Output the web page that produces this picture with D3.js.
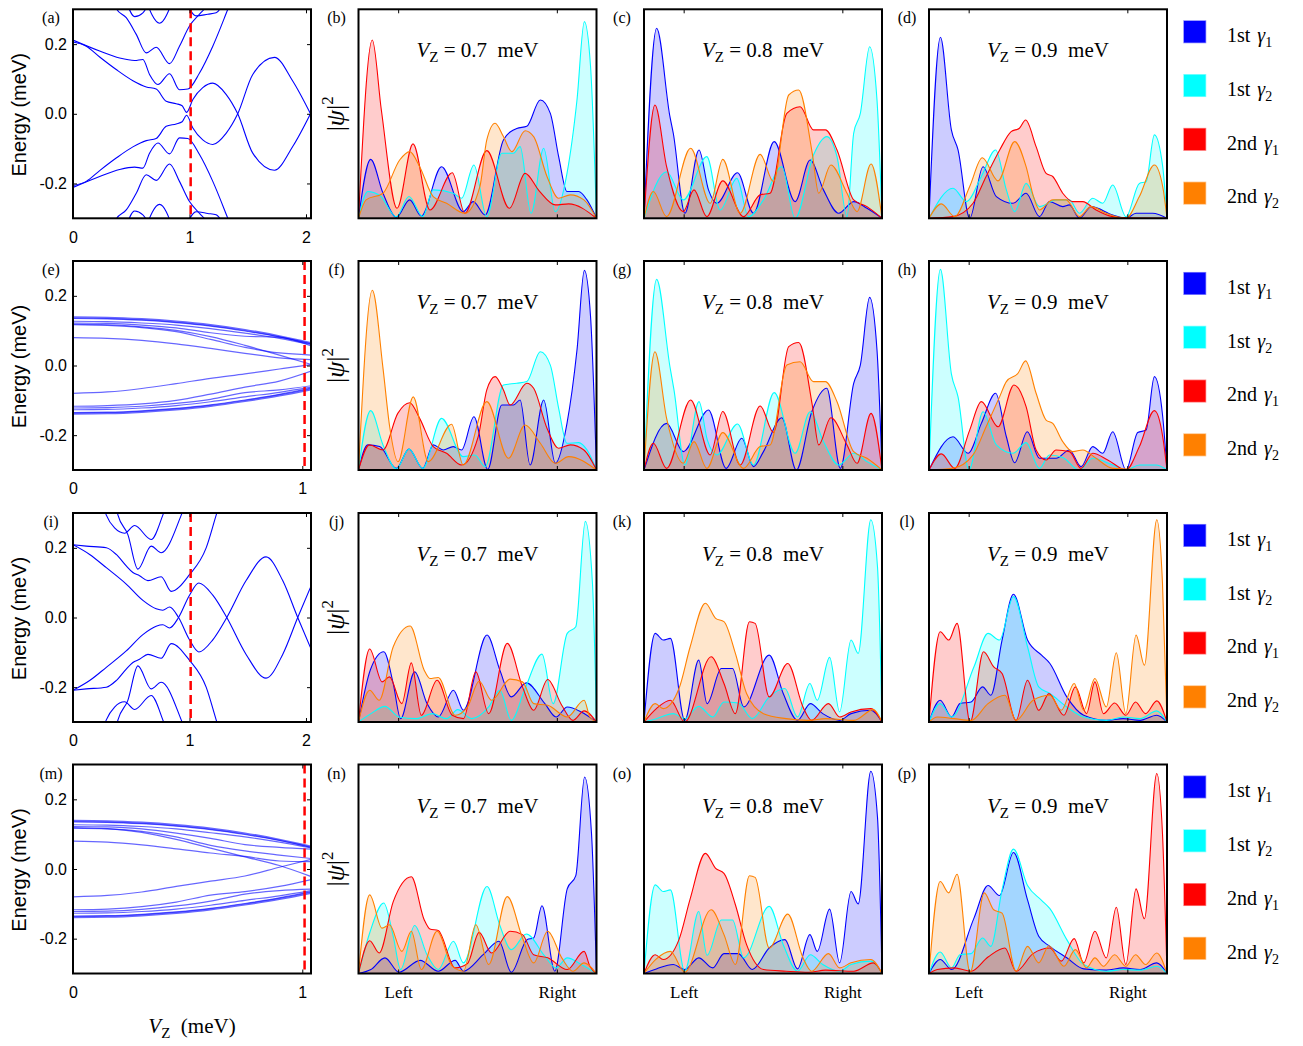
<!DOCTYPE html>
<html><head><meta charset="utf-8">
<script src="https://cdn.jsdelivr.net/npm/d3@7"></script>
<style>body{margin:0;background:#fff} text{white-space:pre}</style>
</head><body>
<script>
// ---------------- DATA ----------------
const seriesNames = [["1st","1"],["1st","2"],["2nd","1"],["2nd","2"]];
const seriesColors = ["#0000ff","#00ffff","#ff0000","#ff8000"];
const zeemanValues = ["0.7","0.8","0.9"];
const panelLetters = [["a","b","c","d"],["e","f","g","h"],["i","j","k","l"],["m","n","o","p"]];
const wireTicks = [1/6, 5/6];
const wireTickLabels = ["Left","Right"];
const energyTicks = [-0.2, 0, 0.2];
const energyTickLabels = ["-0.2","0.0","0.2"];
const vzTicksLong = [0,1,2];
const vzTicksShort = [0,1];
const vzDomainLong = [0, 2.043];
const vzDomainShort = [0, 1.038];
const energyDomain = [-0.3, 0.3];
const markerVz = 1.01;

// |psi|^2 curves: [position along wire (0..1), relative density (0..1)]
const b_blue=[[0,0],[0.051,0.282],[0.103,0.12],[0.159,0.005],[0.215,0.088],[0.264,0.011],[0.349,0.247],[0.44,0.032],[0.482,0.08],[0.532,0.016],[0.609,0.375],[0.665,0.43],[0.707,0.44],[0.764,0.566],[0.806,0.502],[0.841,0.295],[0.876,0.128],[0.925,0.128],[0.96,0.088],[1,0]];
const b_cyan=[[0,0],[0.039,0.128],[0.089,0.11],[0.159,0.008],[0.212,0.104],[0.27,0.008],[0.314,0.136],[0.398,0.12],[0.433,0.096],[0.485,0.255],[0.539,0.008],[0.602,0.311],[0.651,0.311],[0.679,0.343],[0.725,0.024],[0.778,0.335],[0.827,0.032],[0.876,0.215],[0.918,0.566],[0.949,0.941],[0.975,0.726],[1,0]];
const b_red=[[0,0],[0.058,0.853],[0.096,0.518],[0.162,0.048],[0.229,0.356],[0.3,0.04],[0.394,0.218],[0.447,0.024],[0.539,0.324],[0.634,0.048],[0.7,0.215],[0.76,0.13],[0.827,0.064],[0.883,0.069],[1,0]];
const b_orange=[[0,0],[0.032,0.088],[0.103,0.12],[0.173,0.279],[0.215,0.319],[0.257,0.247],[0.314,0.104],[0.37,0.072],[0.447,0.024],[0.51,0.152],[0.539,0.375],[0.574,0.455],[0.609,0.391],[0.644,0.319],[0.7,0.419],[0.736,0.391],[0.792,0.2],[0.841,0.096],[0.89,0.112],[0.947,0.088],[1,0]];

const c_blue=[[0,0],[0.053,0.909],[0.109,0.486],[0.123,0.407],[0.172,0.024],[0.231,0.327],[0.271,0.136],[0.306,0.072],[0.393,0.218],[0.46,0.024],[0.547,0.367],[0.635,0.08],[0.698,0.279],[0.754,0.136],[0.818,0.024],[0.881,0.08],[0.937,0.048],[1,0]];
const c_cyan=[[0,0],[0.095,0.223],[0.165,0.088],[0.264,0.295],[0.32,0.04],[0.39,0.191],[0.439,0.008],[0.502,0.088],[0.579,0.247],[0.635,0],[0.712,0.303],[0.768,0.391],[0.811,0.295],[0.853,0.008],[0.881,0.407],[0.909,0.502],[0.948,0.821],[0.979,0.566],[1,0]];
const c_red=[[0,0],[0.046,0.542],[0.095,0.247],[0.165,0.032],[0.21,0.136],[0.264,0.008],[0.331,0.179],[0.418,0.008],[0.488,0.112],[0.53,0.12],[0.6,0.502],[0.656,0.534],[0.712,0.423],[0.762,0.423],[0.811,0.327],[0.881,0.088],[0.937,0.056],[1,0]];
const c_orange=[[0,0],[0.039,0.128],[0.095,0.008],[0.196,0.335],[0.278,0.072],[0.331,0.282],[0.404,0.024],[0.488,0.306],[0.544,0.175],[0.608,0.59],[0.65,0.614],[0.707,0.311],[0.734,0.12],[0.785,0.255],[0.853,0.12],[0.895,0.032],[0.954,0.26],[1,0]];

const d_blue=[[0,0],[0.048,0.866],[0.094,0.423],[0.122,0.327],[0.171,0],[0.227,0.247],[0.283,0.104],[0.353,0.072],[0.408,0.12],[0.464,0.008],[0.506,0.08],[0.562,0.056],[0.59,0.064],[0.632,0],[0.681,0.056],[0.772,0.016],[0.828,0],[0.87,0.024],[0.94,0.024],[1,0]];
const d_cyan=[[0,0],[0.101,0.144],[0.157,0.08],[0.22,0.2],[0.28,0.327],[0.325,0.136],[0.36,0.032],[0.408,0.167],[0.464,0.056],[0.534,0.088],[0.59,0.088],[0.632,0.024],[0.688,0.096],[0.73,0.072],[0.772,0.159],[0.828,0.008],[0.884,0.167],[0.912,0.175],[0.947,0.399],[0.982,0.247],[1,0]];
const d_red=[[0,0],[0.1,0.008],[0.185,0.072],[0.24,0.2],[0.297,0.327],[0.345,0.415],[0.38,0.431],[0.406,0.47],[0.45,0.343],[0.492,0.215],[0.52,0.2],[0.562,0.12],[0.604,0.08],[0.646,0.08],[0.702,0.04],[0.772,0.008],[0.828,0.002],[1,0]];
const d_orange=[[0,0],[0.052,0.069],[0.108,0.008],[0.171,0.152],[0.224,0.29],[0.29,0.179],[0.36,0.367],[0.408,0.247],[0.44,0.1],[0.464,0.04],[0.52,0.088],[0.576,0.088],[0.632,0.008],[0.681,0.056],[0.744,0.024],[0.828,0],[0.884,0.104],[0.947,0.255],[0.982,0.152],[1,0]];

const f_blue=[[0,0],[0.039,0.12],[0.089,0.112],[0.159,0.008],[0.212,0.1],[0.27,0.008],[0.314,0.12],[0.356,0.096],[0.398,0.112],[0.433,0.096],[0.485,0.255],[0.543,0.003],[0.602,0.311],[0.651,0.311],[0.679,0.335],[0.721,0.024],[0.778,0.335],[0.827,0.032],[0.876,0.223],[0.918,0.574],[0.949,0.955],[0.975,0.734],[1,0]];
const f_cyan=[[0,0],[0.051,0.284],[0.103,0.12],[0.159,0.005],[0.212,0.1],[0.27,0.008],[0.349,0.247],[0.44,0.064],[0.489,0.072],[0.532,0.016],[0.609,0.407],[0.665,0.415],[0.707,0.423],[0.764,0.566],[0.806,0.502],[0.841,0.295],[0.876,0.128],[0.925,0.131],[0.96,0.096],[1,0]];
const f_red=[[0,0],[0.046,0.12],[0.103,0.096],[0.165,0.271],[0.215,0.322],[0.257,0.247],[0.314,0.112],[0.37,0.08],[0.433,0.024],[0.503,0.16],[0.539,0.383],[0.574,0.447],[0.609,0.383],[0.637,0.311],[0.707,0.415],[0.736,0.391],[0.792,0.2],[0.841,0.104],[0.89,0.12],[0.947,0.096],[1,0]];
const f_orange=[[0,0],[0.058,0.86],[0.103,0.486],[0.131,0.207],[0.166,0.04],[0.23,0.35],[0.293,0.04],[0.391,0.219],[0.44,0.024],[0.539,0.327],[0.63,0.056],[0.7,0.215],[0.764,0.128],[0.827,0.032],[0.883,0.064],[1,0]];

const g_blue=[[0,0],[0.095,0.223],[0.165,0.088],[0.271,0.287],[0.345,0.008],[0.411,0.152],[0.46,0.016],[0.502,0.088],[0.579,0.25],[0.64,0],[0.705,0.279],[0.768,0.391],[0.825,0.008],[0.881,0.415],[0.909,0.502],[0.948,0.826],[0.979,0.574],[1,0]];
const g_cyan=[[0,0],[0.053,0.912],[0.109,0.494],[0.126,0.383],[0.172,0.024],[0.231,0.327],[0.266,0.144],[0.306,0.072],[0.393,0.22],[0.46,0.024],[0.547,0.37],[0.635,0.08],[0.698,0.279],[0.754,0.136],[0.818,0.024],[0.881,0.08],[0.937,0.04],[1,0]];
const g_red=[[0,0],[0.039,0.128],[0.095,0.008],[0.196,0.335],[0.278,0.072],[0.331,0.28],[0.404,0.024],[0.488,0.306],[0.544,0.18],[0.608,0.59],[0.65,0.61],[0.707,0.311],[0.734,0.12],[0.785,0.25],[0.853,0.12],[0.895,0.032],[0.954,0.271],[1,0]];
const g_orange=[[0,0],[0.046,0.566],[0.095,0.247],[0.165,0.032],[0.21,0.136],[0.264,0.008],[0.331,0.179],[0.418,0.008],[0.488,0.112],[0.53,0.12],[0.6,0.502],[0.656,0.518],[0.712,0.423],[0.762,0.423],[0.811,0.327],[0.881,0.088],[0.937,0.056],[1,0]];

const h_blue=[[0,0],[0.101,0.159],[0.164,0.08],[0.22,0.223],[0.28,0.367],[0.325,0.159],[0.36,0.035],[0.413,0.183],[0.464,0.056],[0.534,0.056],[0.59,0.096],[0.639,0.016],[0.688,0.112],[0.73,0.08],[0.772,0.183],[0.828,0],[0.877,0.179],[0.912,0.191],[0.947,0.447],[0.982,0.255],[1,0]];
const h_cyan=[[0,0],[0.048,0.96],[0.094,0.46],[0.122,0.35],[0.168,0],[0.227,0.279],[0.283,0.12],[0.353,0.08],[0.408,0.131],[0.464,0.008],[0.506,0.072],[0.562,0.06],[0.632,0],[0.688,0.056],[0.772,0.024],[0.828,0],[0.884,0.024],[0.954,0.024],[1,0]];
const h_red=[[0,0],[0.052,0.077],[0.108,0.008],[0.171,0.191],[0.22,0.327],[0.29,0.207],[0.357,0.407],[0.408,0.303],[0.45,0.096],[0.492,0.048],[0.534,0.096],[0.59,0.088],[0.639,0.008],[0.688,0.08],[0.751,0.048],[0.828,0],[0.884,0.112],[0.947,0.284],[0.982,0.16],[1,0]];
const h_orange=[[0,0],[0.1,0.008],[0.185,0.072],[0.24,0.207],[0.297,0.351],[0.325,0.423],[0.374,0.463],[0.406,0.522],[0.45,0.367],[0.492,0.239],[0.52,0.223],[0.562,0.136],[0.604,0.088],[0.646,0.096],[0.702,0.056],[0.772,0.008],[1,0]];

const j_blue=[[0,0],[0.05,0.25],[0.106,0.336],[0.146,0.184],[0.177,0.016],[0.236,0.24],[0.288,0.088],[0.335,0.024],[0.399,0.152],[0.441,0.056],[0.54,0.416],[0.594,0.248],[0.642,0.12],[0.705,0.187],[0.783,0.088],[0.83,0.024],[0.877,0.072],[0.936,0.048],[1,0]];
const j_cyan=[[0,0],[0.052,0.04],[0.111,0.075],[0.17,0.024],[0.24,0.016],[0.311,0.04],[0.37,0.016],[0.417,0.059],[0.476,0.016],[0.547,0.072],[0.594,0.152],[0.642,0.008],[0.7,0.16],[0.771,0.325],[0.818,0.088],[0.877,0.424],[0.913,0.456],[0.953,0.96],[0.983,0.664],[1,0]];
const j_red=[[0,0],[0.047,0.349],[0.099,0.192],[0.13,0.216],[0.182,0.088],[0.222,0.283],[0.264,0.032],[0.33,0.2],[0.394,0.032],[0.441,0.016],[0.493,0.24],[0.547,0.04],[0.625,0.376],[0.689,0.168],[0.736,0.056],[0.795,0.203],[0.854,0.08],[0.901,0.008],[0.948,0.053],[1,0]];
const j_orange=[[0,0],[0.047,0.152],[0.087,0.104],[0.146,0.36],[0.217,0.459],[0.276,0.248],[0.3,0.208],[0.335,0.213],[0.406,0.032],[0.458,0.072],[0.507,0.195],[0.559,0.104],[0.637,0.205],[0.689,0.192],[0.736,0.088],[0.795,0.08],[0.877,0.024],[0.948,0.104],[0.972,0.024],[1,0]];

const k_blue=[[0,0],[0.047,0.424],[0.081,0.392],[0.111,0.4],[0.171,0.008],[0.23,0.296],[0.265,0.088],[0.325,0.256],[0.372,0.256],[0.419,0.072],[0.526,0.32],[0.585,0.136],[0.645,0.008],[0.699,0.088],[0.751,0.04],[0.822,0.008],[0.87,0.04],[0.953,0.056],[1,0]];
const k_cyan=[[0,0],[0.052,0.016],[0.123,0.04],[0.171,0.016],[0.23,0.075],[0.289,0.024],[0.336,0.096],[0.396,0.091],[0.455,0.016],[0.526,0.12],[0.592,0.16],[0.645,0.024],[0.697,0.184],[0.728,0.104],[0.78,0.309],[0.822,0.048],[0.87,0.392],[0.9,0.328],[0.953,0.968],[0.981,0.744],[1,0]];
const k_red=[[0,0],[0.052,0.064],[0.111,0.104],[0.171,0],[0.282,0.312],[0.336,0.184],[0.384,0.04],[0.443,0.48],[0.467,0.472],[0.526,0.12],[0.604,0.28],[0.668,0.072],[0.704,0.008],[0.775,0.088],[0.822,0.024],[0.87,0.048],[0.953,0.064],[1,0]];
const k_orange=[[0,0],[0.047,0.088],[0.081,0.064],[0.147,0.16],[0.194,0.36],[0.258,0.568],[0.301,0.496],[0.336,0.48],[0.384,0.328],[0.431,0.136],[0.502,0.04],[0.597,0.016],[0.692,0.008],[0.763,0.016],[0.882,0.008],[0.964,0.059],[1,0]];

const l_blue=[[0,0],[0.047,0.104],[0.095,0.024],[0.13,0.088],[0.177,0.096],[0.225,0.168],[0.26,0.128],[0.307,0.392],[0.355,0.611],[0.414,0.392],[0.473,0.32],[0.508,0.28],[0.579,0.12],[0.65,0.032],[0.745,0.008],[0.816,0.016],[0.887,0.008],[0.957,0.032],[1,0]];
const l_cyan=[[0,0],[0.047,0.088],[0.095,0.024],[0.189,0.264],[0.248,0.424],[0.296,0.392],[0.355,0.6],[0.414,0.36],[0.461,0.168],[0.508,0.136],[0.579,0.072],[0.65,0.024],[0.745,0.008],[0.816,0.024],[0.887,0.016],[0.957,0.053],[1,0]];
const l_red=[[0,0],[0.047,0.432],[0.083,0.392],[0.118,0.472],[0.173,0],[0.229,0.336],[0.272,0.264],[0.307,0.232],[0.366,0.008],[0.414,0.2],[0.461,0.056],[0.504,0.136],[0.567,0.032],[0.615,0.168],[0.662,0.04],[0.697,0.192],[0.733,0.04],[0.78,0.091],[0.827,0.032],[0.868,0.096],[0.91,0.04],[0.957,0.101],[1,0]];
const l_orange=[[0,0],[0.035,0.024],[0.106,0.016],[0.177,0.008],[0.248,0.088],[0.319,0.128],[0.366,0.008],[0.437,0.104],[0.508,0.128],[0.556,0.056],[0.61,0.184],[0.65,0.056],[0.697,0.208],[0.745,0.072],[0.787,0.331],[0.827,0.04],[0.87,0.416],[0.905,0.272],[0.957,0.968],[0.981,0.664],[1,0]];

const n_blue=[[0,0],[0.052,0.019],[0.111,0.075],[0.17,0.006],[0.259,0.063],[0.335,0.011],[0.406,0.063],[0.441,0.011],[0.524,0.09],[0.59,0.154],[0.642,0.006],[0.708,0.162],[0.736,0.17],[0.771,0.324],[0.825,0.011],[0.877,0.405],[0.913,0.468],[0.95,0.94],[0.979,0.67],[1,0]];
const n_cyan=[[0,0],[0.047,0.194],[0.106,0.337],[0.146,0.178],[0.177,0.019],[0.236,0.23],[0.288,0.09],[0.335,0.019],[0.399,0.154],[0.441,0.051],[0.54,0.416],[0.594,0.23],[0.642,0.114],[0.705,0.189],[0.783,0.083],[0.83,0.027],[0.877,0.075],[0.936,0.043],[1,0]];
const n_red=[[0,0],[0.047,0.157],[0.087,0.098],[0.146,0.344],[0.222,0.463],[0.276,0.257],[0.3,0.213],[0.335,0.206],[0.406,0.027],[0.458,0.048],[0.507,0.197],[0.559,0.098],[0.637,0.202],[0.689,0.186],[0.736,0.09],[0.795,0.075],[0.877,0.019],[0.948,0.106],[0.972,0.035],[1,0]];
const n_orange=[[0,0],[0.047,0.376],[0.099,0.217],[0.13,0.233],[0.182,0.106],[0.222,0.202],[0.264,0.019],[0.33,0.202],[0.394,0.035],[0.441,0.011],[0.493,0.233],[0.547,0.043],[0.625,0.368],[0.689,0.17],[0.736,0.051],[0.795,0.202],[0.854,0.075],[0.901,0.011],[0.948,0.051],[1,0]];

const o_blue=[[0,0],[0.052,0.022],[0.123,0.043],[0.171,0.019],[0.23,0.075],[0.289,0.027],[0.336,0.095],[0.396,0.095],[0.455,0.019],[0.526,0.122],[0.592,0.162],[0.645,0.022],[0.697,0.186],[0.728,0.106],[0.78,0.308],[0.822,0.051],[0.87,0.392],[0.9,0.333],[0.953,0.968],[0.981,0.749],[1,0]];
const o_cyan=[[0,0],[0.047,0.424],[0.081,0.392],[0.111,0.4],[0.171,0.011],[0.23,0.297],[0.265,0.087],[0.325,0.256],[0.372,0.256],[0.419,0.075],[0.526,0.321],[0.585,0.138],[0.645,0.011],[0.699,0.09],[0.751,0.043],[0.822,0.011],[0.87,0.043],[0.953,0.059],[1,0]];
const o_red=[[0,0],[0.047,0.09],[0.081,0.067],[0.147,0.162],[0.194,0.357],[0.258,0.575],[0.301,0.503],[0.336,0.479],[0.384,0.329],[0.431,0.138],[0.502,0.019],[0.597,0.011],[0.692,0.006],[0.763,0.016],[0.882,0.011],[0.964,0.051],[1,0]];
const o_orange=[[0,0],[0.052,0.07],[0.111,0.106],[0.171,0.006],[0.282,0.305],[0.336,0.186],[0.384,0.043],[0.443,0.468],[0.467,0.46],[0.526,0.122],[0.604,0.284],[0.668,0.075],[0.704,0.011],[0.775,0.095],[0.822,0.027],[0.87,0.051],[0.953,0.067],[1,0]];

const p_blue=[[0,0],[0.047,0.067],[0.095,0.019],[0.189,0.265],[0.248,0.421],[0.296,0.373],[0.355,0.579],[0.414,0.352],[0.461,0.178],[0.508,0.13],[0.579,0.075],[0.65,0.022],[0.745,0.016],[0.816,0.027],[0.887,0.019],[0.957,0.051],[1,0]];
const p_cyan=[[0,0],[0.047,0.103],[0.095,0.027],[0.13,0.09],[0.177,0.095],[0.225,0.17],[0.26,0.13],[0.307,0.4],[0.355,0.595],[0.414,0.421],[0.473,0.35],[0.508,0.31],[0.579,0.162],[0.65,0.043],[0.745,0.011],[0.816,0.019],[0.887,0.016],[0.957,0.035],[1,0]];
const p_red=[[0,0],[0.035,0.019],[0.106,0.027],[0.177,0.011],[0.248,0.079],[0.319,0.122],[0.366,0.011],[0.437,0.095],[0.508,0.122],[0.556,0.059],[0.61,0.167],[0.65,0.051],[0.697,0.202],[0.745,0.075],[0.787,0.317],[0.827,0.043],[0.87,0.405],[0.905,0.262],[0.957,0.957],[0.981,0.67],[1,0]];
const p_orange=[[0,0],[0.047,0.44],[0.083,0.386],[0.118,0.475],[0.173,0.006],[0.232,0.386],[0.272,0.305],[0.307,0.289],[0.366,0.011],[0.414,0.13],[0.461,0.051],[0.504,0.133],[0.567,0.035],[0.615,0.114],[0.662,0.027],[0.697,0.075],[0.733,0.035],[0.78,0.09],[0.827,0.035],[0.868,0.09],[0.91,0.043],[0.957,0.098],[1,0]];

// Energy spectra, panels (a) and (i): [Vz (meV), E (meV)]
const a_up1=[[0,0.206],[0.114,0.194],[0.229,0.163],[0.371,0.127],[0.514,0.095],[0.629,0.077],[0.714,0.071],[0.8,0.036],[0.886,0.029],[0.937,0.023],[0.975,0.004],[1.029,0.041],[1.114,0.075],[1.2,0.088],[1.314,0.056],[1.414,0],[1.543,-0.113],[1.729,-0.162],[1.886,-0.094],[2.043,0.003]];
const a_dn1=[[0,-0.206],[0.114,-0.194],[0.229,-0.163],[0.371,-0.127],[0.514,-0.095],[0.629,-0.077],[0.714,-0.071],[0.8,-0.036],[0.886,-0.029],[0.937,-0.023],[0.975,-0.004],[1.029,-0.041],[1.114,-0.075],[1.2,-0.088],[1.314,-0.056],[1.414,0],[1.543,0.113],[1.729,0.162],[1.886,0.094],[2.043,-0.003]];
const a_up2=[[0,0.2115],[0.229,0.18],[0.4,0.16],[0.529,0.153],[0.6,0.156],[0.657,0.113],[0.729,0.084],[0.829,0.115],[0.914,0.069],[0.986,0.071],[1.086,0.117],[1.2,0.194],[1.329,0.3],[1.4,0.36]];
const a_dn2=[[0,-0.2115],[0.229,-0.18],[0.4,-0.16],[0.529,-0.153],[0.6,-0.156],[0.657,-0.113],[0.729,-0.084],[0.829,-0.115],[0.914,-0.069],[0.986,-0.071],[1.086,-0.117],[1.2,-0.194],[1.329,-0.3],[1.4,-0.36]];
const a_up3=[[0.32,0.35],[0.371,0.302],[0.457,0.276],[0.543,0.228],[0.629,0.175],[0.714,0.191],[0.829,0.144],[0.914,0.194],[1.0,0.252],[1.086,0.286],[1.15,0.31],[1.2,0.34]];
const a_dn3=[[0.32,-0.35],[0.371,-0.302],[0.457,-0.276],[0.543,-0.228],[0.629,-0.175],[0.714,-0.191],[0.829,-0.144],[0.914,-0.194],[1.0,-0.252],[1.086,-0.286],[1.15,-0.31],[1.2,-0.34]];
const a_up4=[[0.45,0.33],[0.529,0.279],[0.6,0.29],[0.67,0.33]];
const a_dn4=[[0.45,-0.33],[0.529,-0.279],[0.6,-0.29],[0.67,-0.33]];
const a_up5=[[0.62,0.33],[0.743,0.26],[0.86,0.33]];
const a_dn5=[[0.62,-0.33],[0.743,-0.26],[0.86,-0.33]];
const a_up6=[[0.96,0.33],[1.057,0.281],[1.157,0.286],[1.229,0.29],[1.31,0.33]];
const a_dn6=[[0.96,-0.33],[1.057,-0.281],[1.157,-0.286],[1.229,-0.29],[1.31,-0.33]];

const i_up1=[[0,0.209],[0.114,0.205],[0.286,0.2],[0.371,0.181],[0.457,0.148],[0.514,0.129],[0.571,0.12],[0.643,0.106],[0.757,0.117],[0.843,0.075],[1.0,0.123],[1.143,0.2],[1.229,0.294],[1.29,0.36]];
const i_dn1=[[0,-0.209],[0.114,-0.205],[0.286,-0.2],[0.371,-0.181],[0.457,-0.148],[0.514,-0.129],[0.571,-0.12],[0.643,-0.106],[0.757,-0.117],[0.843,-0.075],[1.0,-0.123],[1.143,-0.2],[1.229,-0.294],[1.29,-0.36]];
const i_up2=[[0,0.209],[0.143,0.181],[0.286,0.143],[0.457,0.096],[0.6,0.049],[0.714,0.025],[0.771,0.021],[0.829,0.03],[0.906,0],[1.0,-0.064],[1.08,-0.099],[1.2,-0.064],[1.32,0],[1.486,0.106],[1.657,0.174],[1.8,0.106],[1.929,0],[2.043,-0.09]];
const i_dn2=[[0,-0.209],[0.143,-0.181],[0.286,-0.143],[0.457,-0.096],[0.6,-0.049],[0.714,-0.025],[0.771,-0.021],[0.829,-0.03],[0.906,0],[1.0,0.064],[1.08,0.099],[1.2,0.064],[1.32,0],[1.486,-0.106],[1.657,-0.174],[1.8,-0.106],[1.929,0],[2.043,0.09]];
const i_up3=[[0.25,0.33],[0.286,0.294],[0.357,0.257],[0.443,0.242],[0.529,0.264],[0.671,0.224],[0.771,0.294],[0.81,0.33]];
const i_dn3=[[0.25,-0.33],[0.286,-0.294],[0.357,-0.257],[0.443,-0.242],[0.529,-0.264],[0.671,-0.224],[0.771,-0.294],[0.81,-0.33]];
const i_up4=[[0.36,0.33],[0.386,0.294],[0.471,0.238],[0.557,0.139],[0.671,0.205],[0.757,0.186],[0.929,0.294],[0.97,0.33]];
const i_dn4=[[0.36,-0.33],[0.386,-0.294],[0.471,-0.238],[0.557,-0.139],[0.671,-0.205],[0.757,-0.186],[0.929,-0.294],[0.97,-0.33]];

// Energy spectra, panels (e) and (m): band energies sampled at bandVz
const bandVz=[0,0.15,0.3,0.45,0.6,0.75,0.9,1.04];
const e_bands=[
 [0.138,0.137,0.133,0.126,0.116,0.102,0.084,0.064],
 [0.135,0.134,0.130,0.123,0.113,0.099,0.082,0.062],
 [0.127,0.126,0.122,0.116,0.106,0.093,0.078,0.060],
 [0.122,0.121,0.116,0.108,0.094,0.084,0.081,0.056],
 [0.117,0.115,0.109,0.097,0.075,0.052,0.036,0.030],
 [0.080,0.078,0.072,0.062,0.049,0.035,0.022,0.017],
 [0.119,0.117,0.111,0.101,0.083,0.058,0.030,0.003],
 [-0.138,-0.137,-0.133,-0.126,-0.116,-0.102,-0.086,-0.068],
 [-0.135,-0.134,-0.130,-0.123,-0.113,-0.099,-0.083,-0.065],
 [-0.127,-0.126,-0.122,-0.115,-0.104,-0.090,-0.077,-0.062],
 [-0.122,-0.121,-0.117,-0.109,-0.097,-0.078,-0.070,-0.058],
 [-0.117,-0.115,-0.110,-0.100,-0.082,-0.062,-0.045,-0.016],
 [-0.080,-0.076,-0.066,-0.052,-0.037,-0.024,-0.010,0.003]
];
const m_bands=[
 [0.138,0.137,0.133,0.126,0.116,0.102,0.084,0.064],
 [0.135,0.134,0.130,0.123,0.113,0.099,0.082,0.062],
 [0.127,0.126,0.122,0.115,0.104,0.092,0.077,0.060],
 [0.122,0.121,0.115,0.103,0.088,0.070,0.062,0.057],
 [0.117,0.115,0.108,0.092,0.068,0.052,0.040,0.030],
 [0.080,0.077,0.069,0.058,0.046,0.036,0.023,0.021],
 [0.119,0.116,0.105,0.085,0.060,0.035,0.010,-0.022],
 [-0.138,-0.137,-0.133,-0.126,-0.116,-0.102,-0.086,-0.068],
 [-0.135,-0.134,-0.130,-0.123,-0.113,-0.099,-0.083,-0.065],
 [-0.127,-0.126,-0.122,-0.115,-0.104,-0.090,-0.077,-0.062],
 [-0.122,-0.121,-0.116,-0.106,-0.092,-0.072,-0.062,-0.058],
 [-0.117,-0.115,-0.108,-0.095,-0.075,-0.065,-0.050,-0.030],
 [-0.080,-0.076,-0.066,-0.050,-0.035,-0.020,0.005,0.028]
];

const waveRows=[
 [[b_blue,b_cyan,b_red,b_orange],[c_blue,c_cyan,c_red,c_orange],[d_blue,d_cyan,d_red,d_orange]],
 [[f_blue,f_cyan,f_red,f_orange],[g_blue,g_cyan,g_red,g_orange],[h_blue,h_cyan,h_red,h_orange]],
 [[j_blue,j_cyan,j_red,j_orange],[k_blue,k_cyan,k_red,k_orange],[l_blue,l_cyan,l_red,l_orange]],
 [[n_blue,n_cyan,n_red,n_orange],[o_blue,o_cyan,o_red,o_orange],[p_blue,p_cyan,p_red,p_orange]]
];
const spectraLong={0:[a_up1,a_dn1,a_up2,a_dn2,a_up3,a_dn3,a_up4,a_dn4,a_up5,a_dn5,a_up6,a_dn6],
                   2:[i_up1,i_dn1,i_up2,i_dn2,i_up3,i_dn3,i_up4,i_dn4]};
const spectraShort={1:e_bands,3:m_bands};

// ---------------- LAYOUT ----------------
const W=1303,H=1046;
const rowTop=[9.3,261,513,764.5], ph=209, pw=238;
const colLeft=[73,358.5,644,929];
const SERIF="'Liberation Serif','Times New Roman',serif";
const SANS="'Liberation Sans',Arial,sans-serif";

const svg=d3.select("body").append("svg").attr("width",W).attr("height",H);
const defs=svg.append("defs");
let clipId=0;
function clip(x0,y0){
  const id="clip"+(clipId++);
  defs.append("clipPath").attr("id",id).append("rect").attr("x",x0).attr("y",y0).attr("width",pw).attr("height",ph);
  return "url(#"+id+")";
}
function frame(x0,y0){
  svg.append("rect").attr("x",x0).attr("y",y0).attr("width",pw).attr("height",ph)
    .attr("fill","none").attr("stroke","#000").attr("stroke-width",2);
}
function label(x0,y0,letter){
  svg.append("text").attr("x",x0-22).attr("y",y0+14).attr("text-anchor","middle")
    .attr("font-family",SERIF).attr("font-size",16).text("("+letter+")");
}

// Energy panels
rowTop.forEach((top,r)=>{
  const x0=colLeft[0];
  const long=(r%2===0);
  const x=d3.scaleLinear(long?vzDomainLong:vzDomainShort,[x0,x0+pw]);
  const y=d3.scaleLinear(energyDomain,[top+ph,top]);
  const g=svg.append("g").attr("clip-path",clip(x0,top));
  const line=d3.line().x(d=>x(d[0])).y(d=>y(d[1])).curve(d3.curveMonotoneX);
  if(long){
    spectraLong[r].forEach(c=>g.append("path").attr("d",line(c)).attr("fill","none")
      .attr("stroke","#0000ff").attr("stroke-width",1.1));
  } else {
    spectraShort[r].forEach((b,bi)=>{
      const pts=bandVz.map((v,k)=>[v,b[k]]);
      g.append("path").attr("d",line(pts)).attr("fill","none")
        .attr("stroke","#0000ff").attr("stroke-opacity",0.6)
        .attr("stroke-width",(bi===0||bi===7)?2.2:1.2);
    });
  }
  g.append("line").attr("x1",x(markerVz)).attr("x2",x(markerVz)).attr("y1",top).attr("y2",top+ph)
    .attr("stroke","#ff0000").attr("stroke-width",2.5).attr("stroke-dasharray","9,5");
  const ax=svg.append("g").attr("transform",`translate(${x0},0)`)
    .call(d3.axisLeft(y).tickValues(energyTicks).tickSize(-4).tickPadding(6)
      .tickFormat((d,i)=>energyTickLabels[i]));
  ax.select(".domain").remove();
  ax.attr("font-size",16).attr("font-family",SANS);
  const axr=svg.append("g").attr("transform",`translate(${x0+pw},0)`)
    .call(d3.axisRight(y).tickValues(energyTicks).tickSize(-4).tickFormat(""));
  axr.select(".domain").remove();
  const xb=svg.append("g").attr("transform",`translate(0,${top+ph})`)
    .call(d3.axisBottom(x).tickValues(long?vzTicksLong:vzTicksShort).tickSize(-4).tickPadding(13)
      .tickFormat(d3.format("d")));
  xb.select(".domain").remove();
  xb.attr("font-size",16).attr("font-family",SANS);
  const xt=svg.append("g").attr("transform",`translate(0,${top})`)
    .call(d3.axisTop(x).tickValues(long?vzTicksLong:vzTicksShort).tickSize(-4).tickFormat(""));
  xt.select(".domain").remove();
  frame(x0,top);
  label(x0,top,panelLetters[r][0]);
  svg.append("text").attr("transform",`translate(26,${top+ph/2+1}) rotate(-90)`)
    .attr("text-anchor","middle").attr("font-family",SANS).attr("font-size",20).text("Energy (meV)");
});

// Wavefunction panels
waveRows.forEach((row,r)=>{
  const top=rowTop[r];
  row.forEach((curves,c)=>{
    const x0=colLeft[c+1];
    const x=d3.scaleLinear([0,1],[x0,x0+pw]);
    const y=d3.scaleLinear([0,1],[top+ph,top]);
    const g=svg.append("g").attr("clip-path",clip(x0,top));
    const area=d3.area().x(d=>x(d[0])).y0(y(0)).y1(d=>y(d[1])).curve(d3.curveMonotoneX);
    const line=d3.line().x(d=>x(d[0])).y(d=>y(d[1])).curve(d3.curveMonotoneX);
    curves.forEach((cv,i)=>g.append("path").attr("d",area(cv)).attr("fill",seriesColors[i]).attr("fill-opacity",0.2));
    curves.forEach((cv,i)=>g.append("path").attr("d",line(cv)).attr("fill","none")
      .attr("stroke",seriesColors[i]).attr("stroke-width",1.1));
    const bot=svg.append("g").attr("transform",`translate(0,${top+ph})`)
      .call(d3.axisBottom(x).tickValues(wireTicks).tickSize(-4).tickPadding(12)
        .tickFormat((d,i)=>r===3?wireTickLabels[i]:""));
    bot.select(".domain").remove();
    bot.attr("font-size",17).attr("font-family",SERIF);
    const tp=svg.append("g").attr("transform",`translate(0,${top})`)
      .call(d3.axisTop(x).tickValues(wireTicks).tickSize(-4).tickFormat(""));
    tp.select(".domain").remove();
    frame(x0,top);
    label(x0,top,panelLetters[r][c+1]);
    const t=svg.append("text").attr("x",x0+pw/2).attr("y",top+48).attr("text-anchor","middle")
      .attr("font-family",SERIF).attr("font-size",21);
    t.append("tspan").attr("font-style","italic").text("V");
    t.append("tspan").attr("font-size",15).attr("dy",5).text("Z");
    t.append("tspan").attr("dy",-5).text(" = "+zeemanValues[c]+"  meV");
  });
  const yl=svg.append("text").attr("transform",`translate(344,${top+ph/2}) rotate(-90)`)
    .attr("text-anchor","middle").attr("font-family",SERIF).attr("font-size",26);
  yl.append("tspan").text("|");
  yl.append("tspan").attr("font-style","italic").text("ψ");
  yl.append("tspan").text("|");
  yl.append("tspan").attr("font-size",17).attr("dy",-11).text("2");
  seriesNames.forEach((s,i)=>{
    const sy=top+11.7+i*53.8;
    svg.append("rect").attr("x",1184).attr("y",sy).attr("width",21.5).attr("height",21.5)
      .attr("fill",seriesColors[i]).attr("stroke",seriesColors[i]).attr("stroke-opacity",0.5)
      .attr("stroke-width",1.5).attr("fill-opacity",1);
    const lt=svg.append("text").attr("x",1227).attr("y",sy+21).attr("font-family",SERIF).attr("font-size",20);
    lt.append("tspan").text(s[0]);
    lt.append("tspan").attr("dx",7).attr("font-style","italic").text("γ");
    lt.append("tspan").attr("font-size",14).attr("dy",5).text(s[1]);
  });
});

const bt=svg.append("text").attr("x",192).attr("y",1033).attr("text-anchor","middle")
  .attr("font-family",SERIF).attr("font-size",21);
bt.append("tspan").attr("font-style","italic").text("V");
bt.append("tspan").attr("font-size",15).attr("dy",5).text("Z");
bt.append("tspan").attr("dy",-5).text("  (meV)");
</script>
</body></html>
